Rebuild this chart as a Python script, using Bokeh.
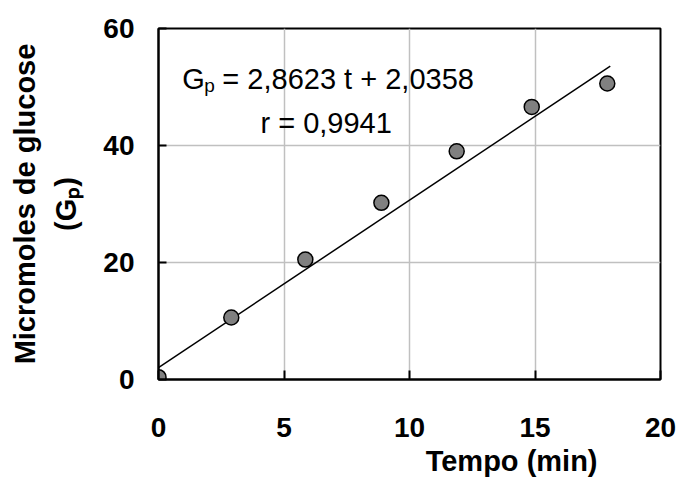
from bokeh.plotting import figure
from bokeh.models import Range1d, Label, FixedTicker, Title
from bokeh.embed import file_html
from bokeh.resources import INLINE

# ---- data ----
tempo = [0.0, 2.9, 5.85, 8.88, 11.88, 14.87, 17.88]
glucose = [0.4, 10.6, 20.5, 30.2, 39.0, 46.6, 50.6]
slope = 2.8623
intercept = 2.0358
fit_range = [0, 18]
x_ticks = [0, 5, 10, 15, 20]
y_ticks = [0, 20, 40, 60]
eq_text = "= 2,8623 t + 2,0358"
r_text = "r = 0,9941"
x_title = "Tempo (min)"
y_title_1 = "Micromoles de glucose"
y_title_2 = "(G\u209a)"

FONT = "Liberation Sans"

p = figure(width=680, height=479, output_backend="svg", toolbar_location=None,
           x_range=Range1d(0, 20), y_range=Range1d(0, 60),
           min_border_left=158, min_border_right=20,
           min_border_top=28, min_border_bottom=100)
p.background_fill_color = "white"
p.border_fill_color = "white"
p.outline_line_color = "black"
p.outline_line_width = 2

for ax in (p.xaxis[0], p.yaxis[0]):
    ax.axis_line_color = "black"
    ax.axis_line_width = 2
    ax.major_tick_line_color = "black"
    ax.major_tick_line_width = 2
    ax.major_tick_out = 0
    ax.minor_tick_line_color = None
    ax.major_label_text_font = FONT
    ax.major_label_text_font_style = "bold"
    ax.major_label_text_font_size = "28px"
    ax.major_label_text_color = "black"

p.xaxis.ticker = FixedTicker(ticks=x_ticks)
p.yaxis.ticker = FixedTicker(ticks=y_ticks)
p.xaxis.major_tick_in = 9
p.yaxis.major_tick_in = 8
p.xaxis.major_label_standoff = 38
p.yaxis.major_label_standoff = 24

p.xgrid.ticker = FixedTicker(ticks=x_ticks)
p.ygrid.ticker = FixedTicker(ticks=y_ticks)
p.grid.grid_line_color = "#c0c0c0"
p.grid.grid_line_width = 1.5

# regression line
fx = fit_range
fy = [slope * v + intercept for v in fx]
p.line(fx, fy, line_color="black", line_width=1.5)

# data points
p.scatter(tempo, glucose, size=15, marker="circle", fill_color="#808080",
          line_color="black", line_width=1.5)

# equation annotation
p.add_layout(Label(x=0.95, y=51.3, text="G", text_font=FONT,
                   text_font_size="29px", text_color="black",
                   text_baseline="alphabetic", text_align="left"))
p.add_layout(Label(x=0.95, y=50.2, x_offset=22, text="p", text_font=FONT,
                   text_font_size="19px", text_color="black",
                   text_baseline="alphabetic", text_align="left"))
p.add_layout(Label(x=0.95, y=51.3, x_offset=40, text=eq_text, text_font=FONT,
                   text_font_size="29px", text_color="black",
                   text_baseline="alphabetic", text_align="left"))
p.add_layout(Label(x=6.68, y=43.8, text=r_text, text_font=FONT,
                   text_font_size="29px", text_color="black",
                   text_baseline="alphabetic", text_align="center"))

# x axis title (right of centre, as in the reference)
p.add_layout(Title(text=x_title, align="right", offset=63, standoff=6,
                   text_font=FONT, text_font_style="bold",
                   text_font_size="29px", text_color="black"), "below")

# y axis title: two lines
p.add_layout(Title(text=y_title_2, align="center", standoff=37,
                   text_font=FONT, text_font_style="bold",
                   text_font_size="29px", text_color="black"), "left")
p.add_layout(Title(text=y_title_1, align="center", standoff=-22,
                   text_font=FONT, text_font_style="bold",
                   text_font_size="29px", text_color="black"), "left")

open("out.html", "w").write(file_html(p, INLINE))
